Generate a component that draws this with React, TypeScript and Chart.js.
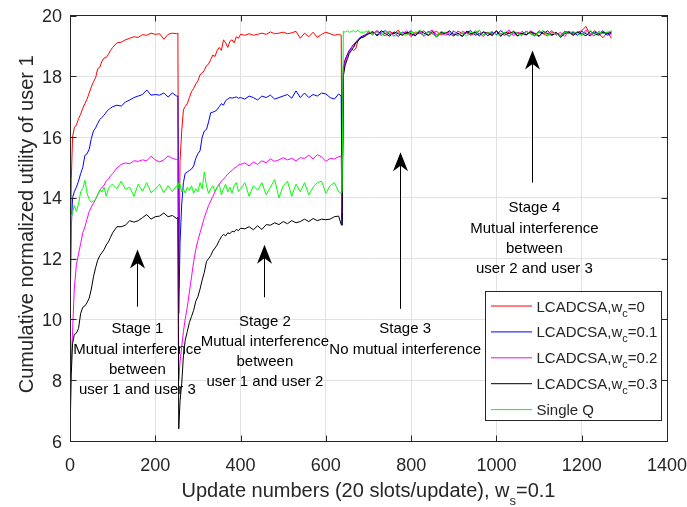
import React, { useEffect, useRef } from 'react';
import Chart from 'chart.js/auto';

// ---------- x positions (update numbers) ----------
const stage1X = [
  0, 3, 6, 10, 15, 20, 25, 30, 35, 40,
  45, 50, 55, 60, 65, 70, 75, 80, 85, 90,
  95, 100, 110, 120, 130, 140, 150, 160, 170, 180,
  190, 200, 210, 220, 230, 240, 250, 253,
];
const stage2X = [
  255, 258, 262, 266, 270, 275, 280, 285, 290, 295,
  300, 305, 310, 315, 320, 325, 330, 335, 340, 345,
  350, 355, 360, 365, 370, 375, 380, 385, 390, 395,
  400, 410, 420, 430, 440, 450, 460, 470, 480, 490,
  500, 510, 520, 530, 540, 550, 560, 570, 580, 590,
  600, 610, 620, 630, 636,
];
const stage3X = [
  638, 641, 645, 650, 655, 660, 665, 670, 675, 680,
  690, 700, 710, 720, 730, 740, 750, 760, 770, 780,
  790, 800, 810, 820, 830, 840, 850, 860, 870, 880,
  890, 900, 910, 920, 930, 940, 950, 960, 970, 980,
  990, 1000, 1010, 1020, 1030, 1040, 1050, 1060, 1070, 1080,
  1090, 1100, 1110, 1120, 1130, 1140, 1150, 1160, 1170, 1180,
  1190, 1200, 1210, 1220, 1230, 1240, 1250, 1260, 1270,
];
const updates = [...stage1X, ...stage2X, ...stage3X];

// ---------- LCADCSA, wc = 0 (red) ----------
const red1 = [
  11.5, 14.6, 16.0, 16.3, 16.4, 16.6, 16.75, 16.95, 17.1, 17.25,
  17.45, 17.65, 17.82, 17.95, 18.25, 18.3, 18.5, 18.6, 18.62, 18.72,
  18.85, 18.95, 19.1, 19.12, 19.2, 19.25, 19.3, 19.28, 19.37, 19.35,
  19.42, 19.38, 19.4, 19.22, 19.38, 19.42, 19.4, 19.42,
];
const red2 = [
  11.0, 15.2, 16.2, 16.9, 17.0, 17.1, 17.3, 17.5, 17.6, 17.75,
  17.85, 18.05, 18.1, 18.2, 18.35, 18.4, 18.55, 18.7, 18.65, 18.85,
  18.95, 18.85, 19.2, 19.1, 18.95, 19.15, 19.2, 19.1, 19.3, 19.25,
  19.38, 19.35, 19.4, 19.35, 19.38, 19.42, 19.38, 19.46, 19.4, 19.42,
  19.45, 19.4, 19.43, 19.48, 19.25, 19.42, 19.3, 19.45, 19.28, 19.38,
  19.45, 19.4, 19.35, 19.38, 19.35,
];
const red3 = [
  13.3, 18.3, 18.55, 18.7, 18.85, 18.9, 18.85, 18.9, 19.15, 19.25,
  19.32, 19.46, 19.36, 19.5, 19.4, 19.33, 19.47, 19.4, 19.52, 19.35,
  19.45, 19.3, 19.46, 19.4, 19.5, 19.34, 19.42, 19.48, 19.35, 19.45,
  19.4, 19.32, 19.49, 19.4, 19.46, 19.35, 19.42, 19.5, 19.37, 19.45,
  19.33, 19.48, 19.4, 19.35, 19.46, 19.42, 19.32, 19.48, 19.37, 19.45,
  19.35, 19.5, 19.4, 19.33, 19.46, 19.4, 19.35, 19.48, 19.45, 19.35,
  19.45, 19.5, 19.64, 19.35, 19.5, 19.4, 19.27, 19.45, 19.25,
];

// ---------- LCADCSA, wc = 0.1 (blue) ----------
const blue1 = [
  10.0, 13.0, 14.0, 14.2, 14.35, 14.55, 14.8, 15.0, 15.4, 15.45,
  15.6, 15.95, 16.2, 16.3, 16.45, 16.58, 16.65, 16.72, 16.82, 16.9,
  16.95, 17.0, 17.05, 17.02, 17.15, 17.22, 17.3, 17.35, 17.4, 17.55,
  17.38, 17.4, 17.38, 17.45, 17.32, 17.45, 17.35, 17.35,
];
const blue2 = [
  10.2, 12.5, 13.8, 14.5, 14.8, 14.85, 14.9, 14.95, 15.05, 15.3,
  15.45, 15.55, 16.0, 16.2, 16.25, 16.5, 16.8, 16.82, 16.85, 16.9,
  17.0, 17.1, 17.05, 17.2, 17.25, 17.3, 17.28, 17.3, 17.32, 17.28,
  17.3, 17.25, 17.35, 17.3, 17.22, 17.35, 17.3, 17.38, 17.25, 17.3,
  17.35, 17.4, 17.28, 17.52, 17.3, 17.45, 17.3, 17.4, 17.35, 17.45,
  17.42, 17.3, 17.25, 17.42, 17.35,
];
const blue3 = [
  13.1, 18.2, 18.5, 18.7, 18.85, 18.95, 19.05, 19.12, 19.2, 19.28,
  19.35, 19.4, 19.48, 19.33, 19.45, 19.5, 19.37, 19.42, 19.31, 19.46,
  19.4, 19.5, 19.35, 19.45, 19.33, 19.48, 19.4, 19.3, 19.46, 19.42,
  19.35, 19.48, 19.4, 19.32, 19.45, 19.5, 19.35, 19.4, 19.46, 19.33,
  19.45, 19.37, 19.5, 19.4, 19.32, 19.46, 19.42, 19.35, 19.48, 19.4,
  19.33, 19.45, 19.4, 19.5, 19.35, 19.42, 19.31, 19.46, 19.4, 19.45,
  19.35, 19.48, 19.4, 19.33, 19.45, 19.4, 19.5, 19.35, 19.42,
];

// ---------- LCADCSA, wc = 0.2 (magenta) ----------
const pink1 = [
  7.7, 8.6, 9.6, 11.0, 11.8, 12.15, 12.5, 12.85, 13.05, 13.3,
  13.55, 13.7, 13.82, 13.95, 14.1, 14.25, 14.35, 14.42, 14.55, 14.62,
  14.72, 14.8, 14.98, 15.1, 15.15, 15.12, 15.22, 15.2, 15.25, 15.22,
  15.37, 15.25, 15.18, 15.25, 15.38, 15.3, 15.26, 15.28,
];
const pink2 = [
  8.0, 8.6, 9.1, 9.6, 10.0, 10.4, 10.9, 11.4, 11.9, 12.3,
  12.6, 12.85, 13.1, 13.35, 13.55, 13.75, 13.9, 14.05, 14.2, 14.35,
  14.45, 14.55, 14.62, 14.7, 14.78, 14.85, 14.9, 14.98, 15.02, 15.08,
  15.1, 15.15, 15.05, 15.18, 15.1, 15.22, 15.15, 15.28, 15.2, 15.25,
  15.32, 15.25, 15.3, 15.22, 15.32, 15.3, 15.4, 15.28, 15.42, 15.35,
  15.2, 15.3, 15.28, 15.35, 15.38,
];
const pink3 = [
  13.5, 18.1, 18.45, 18.65, 18.8, 18.92, 19.0, 19.1, 19.18, 19.25,
  19.32, 19.45, 19.4, 19.5, 19.35, 19.42, 19.48, 19.33, 19.45, 19.4,
  19.5, 19.35, 19.4, 19.46, 19.31, 19.45, 19.52, 19.37, 19.42, 19.35,
  19.46, 19.4, 19.33, 19.48, 19.42, 19.35, 19.5, 19.4, 19.31, 19.45,
  19.4, 19.48, 19.35, 19.42, 19.52, 19.33, 19.45, 19.4, 19.35, 19.5,
  19.42, 19.33, 19.46, 19.4, 19.5, 19.35, 19.45, 19.31, 19.48, 19.4,
  19.46, 19.35, 19.52, 19.4, 19.33, 19.48, 19.4, 19.45, 19.37,
];

// ---------- LCADCSA, wc = 0.3 (black) ----------
const black1 = [
  6.2, 8.2, 9.2, 9.5, 9.55, 9.7, 10.2, 10.4, 10.45, 10.55,
  10.7, 11.0, 11.4, 11.7, 11.95, 12.1, 12.2, 12.3, 12.45, 12.55,
  12.7, 12.85, 13.05, 13.05, 13.1, 13.25, 13.2, 13.25, 13.35, 13.45,
  13.3, 13.38, 13.4, 13.5, 13.38, 13.42, 13.32, 13.35,
];
const black2 = [
  6.4, 7.3, 7.9, 8.8, 9.3, 9.6, 9.9, 10.1, 10.3, 10.6,
  10.75, 11.0, 11.3, 11.55, 11.9, 12.0, 12.1, 12.25, 12.35, 12.45,
  12.6, 12.72, 12.8, 12.75, 12.85, 12.82, 12.9, 12.88, 12.96, 12.92,
  13.0, 12.98, 13.05, 12.95, 13.08, 12.96, 13.12, 13.1, 13.18, 13.12,
  13.22, 13.15, 13.25, 13.18, 13.22, 13.3, 13.22, 13.32, 13.25, 13.3,
  13.28, 13.3, 13.38, 13.4, 13.12,
];
const black3 = [
  13.1, 18.0, 18.35, 18.55, 18.75, 18.85, 18.95, 19.1, 19.15, 19.25,
  19.3, 19.4, 19.45, 19.35, 19.5, 19.4, 19.32, 19.46, 19.4, 19.35,
  19.45, 19.4, 19.33, 19.5, 19.42, 19.35, 19.48, 19.3, 19.45, 19.4,
  19.5, 19.35, 19.42, 19.31, 19.48, 19.4, 19.45, 19.33, 19.46, 19.4,
  19.35, 19.5, 19.31, 19.45, 19.4, 19.48, 19.33, 19.42, 19.37, 19.46,
  19.4, 19.31, 19.48, 19.4, 19.35, 19.45, 19.28, 19.4, 19.46, 19.35,
  19.45, 19.4, 19.33, 19.48, 19.4, 19.35, 19.45, 19.4, 19.46,
];

// ---------- Single Q (green) ----------
const green1 = [
  11.3, 13.4, 13.5, 13.75, 13.55, 13.8, 14.2, 14.3, 14.58, 14.15,
  13.95, 13.85, 13.9, 13.95, 14.1, 14.25, 14.2, 14.35, 14.05, 14.3,
  14.4, 14.45, 14.3, 14.55, 14.28, 14.35, 14.05, 14.45, 14.22, 14.5,
  14.17, 14.28, 14.45, 14.17, 14.4, 14.2, 14.4, 14.3,
];
const green2 = [
  14.5, 14.45, 14.2, 14.3, 14.15, 14.35, 14.25, 14.4, 14.15, 14.3,
  14.2, 14.5, 14.3, 14.85, 14.4, 14.15, 14.3, 14.4, 14.2, 14.35,
  14.45, 14.1, 14.3, 14.45, 14.2, 14.35, 14.15, 14.4, 14.5, 14.2,
  14.3, 14.5, 14.05, 14.4, 14.25, 14.5, 14.1, 14.35, 14.6, 14.0,
  14.4, 14.55, 14.05, 14.45, 14.2, 14.5, 14.1, 14.35, 14.5, 14.55,
  14.15, 14.4, 14.5, 14.2, 14.15,
];
const green3 = [
  14.2, 19.48, 19.45, 19.5, 19.45, 19.47, 19.5, 19.45, 19.52, 19.45,
  19.45, 19.5, 19.38, 19.46, 19.33, 19.5, 19.41, 19.31, 19.48, 19.4,
  19.35, 19.46, 19.4, 19.52, 19.33, 19.45, 19.4, 19.3, 19.48, 19.42,
  19.4, 19.5, 19.35, 19.45, 19.33, 19.46, 19.4, 19.52, 19.35, 19.42,
  19.48, 19.35, 19.4, 19.45, 19.31, 19.5, 19.4, 19.35, 19.46, 19.4,
  19.33, 19.45, 19.5, 19.35, 19.42, 19.4, 19.31, 19.46, 19.4, 19.48,
  19.4, 19.35, 19.45, 19.5, 19.37, 19.46, 19.4, 19.45, 19.5,
];

const wc0 = [...red1, ...red2, ...red3];
const wc01 = [...blue1, ...blue2, ...blue3];
const wc02 = [...pink1, ...pink2, ...pink3];
const wc03 = [...black1, ...black2, ...black3];
const singleQ = [...green1, ...green2, ...green3];

// ---------- labels ----------
const legendWc = ['0', '0.1', '0.2', '0.3'];
const legendLast = 'Single Q';
const xTitleMain = 'Update numbers (20 slots/update), w';
const xTitleSub = 's';
const xTitleTail = '=0.1';
const yTitle = 'Cumulative normalized utility of user 1';

const stageNotes = [
  { lines: ['Stage 1', 'Mutual interference', 'between', 'user 1 and user 3'], textX: 158, textY: 9.54, arrowX: 158, tipY: 12.3, tailY: 10.42 },
  { lines: ['Stage 2', 'Mutual interference', 'between', 'user 1 and user 2'], textX: 457, textY: 9.8, arrowX: 456, tipY: 12.46, tailY: 10.73 },
  { lines: ['Stage 3', 'No mutual interference'], textX: 786, textY: 9.54, arrowX: 775, tipY: 15.5, tailY: 10.35 },
  { lines: ['Stage 4', 'Mutual interference', 'between', 'user 2 and user 3'], textX: 1089, textY: 13.52, arrowX: 1084, tipY: 18.85, tailY: 14.5 },
];

const COLORS = ['#ff0000', '#0000ff', '#ff00ff', '#000000', '#00ff00'];
const FONT = '"Liberation Sans", Arial, Helvetica, sans-serif';
const INK = '#262626';

const decorPlugin = {
  id: 'decor',
  beforeDraw(chart: any) {
    const ctx = chart.ctx;
    ctx.save();
    ctx.fillStyle = '#ffffff';
    ctx.fillRect(0, 0, chart.width, chart.height);
    ctx.restore();
  },
  afterDatasetsDraw(chart: any) {
    const ctx: CanvasRenderingContext2D = chart.ctx;
    const a = chart.chartArea;
    const xs = chart.scales.x;
    const ys = chart.scales.y;
    const L = Math.floor(a.left) + 0.5;
    const R = Math.floor(a.right) + 0.5;
    const T = Math.floor(a.top) + 0.5;
    const B = Math.floor(a.bottom) + 0.5;
    ctx.save();

    // box + inward ticks
    ctx.strokeStyle = INK;
    ctx.lineWidth = 1;
    ctx.strokeRect(L, T, R - L, B - T);
    const tl = 6;
    ctx.beginPath();
    xs.ticks.forEach((t: any) => {
      const px = Math.round(xs.getPixelForValue(t.value)) + 0.5;
      ctx.moveTo(px, B); ctx.lineTo(px, B - tl);
      ctx.moveTo(px, T); ctx.lineTo(px, T + tl);
    });
    ys.ticks.forEach((t: any) => {
      const py = Math.round(ys.getPixelForValue(t.value)) + 0.5;
      ctx.moveTo(L, py); ctx.lineTo(L + tl, py);
      ctx.moveTo(R, py); ctx.lineTo(R - tl, py);
    });
    ctx.stroke();

    // tick labels
    ctx.fillStyle = INK;
    ctx.font = `18px ${FONT}`;
    ctx.textAlign = 'center';
    ctx.textBaseline = 'alphabetic';
    xs.ticks.forEach((t: any) => {
      ctx.fillText(String(t.value), xs.getPixelForValue(t.value), a.bottom + 29.5);
    });
    ctx.textAlign = 'right';
    ys.ticks.forEach((t: any) => {
      ctx.fillText(String(t.value), a.left - 8, ys.getPixelForValue(t.value) + 6.5);
    });

    // x title with subscript
    ctx.textAlign = 'left';
    ctx.font = `20px ${FONT}`;
    const w1 = ctx.measureText(xTitleMain).width;
    const w3 = ctx.measureText(xTitleTail).width;
    ctx.font = `13px ${FONT}`;
    const w2 = ctx.measureText(xTitleSub).width;
    const cx = (a.left + a.right) / 2;
    const sx = cx - (w1 + w2 + w3) / 2;
    const by = a.bottom + 55.5;
    ctx.font = `20px ${FONT}`;
    ctx.fillText(xTitleMain, sx, by);
    ctx.font = `13px ${FONT}`;
    ctx.fillText(xTitleSub, sx + w1, by + 8.5);
    ctx.font = `20px ${FONT}`;
    ctx.fillText(xTitleTail, sx + w1 + w2, by);

    // y title
    ctx.save();
    ctx.translate(32.5, (a.top + a.bottom) / 2 - 4);
    ctx.rotate(-Math.PI / 2);
    ctx.textAlign = 'center';
    ctx.font = `20px ${FONT}`;
    ctx.fillText(yTitle, 0, 0);
    ctx.restore();

    // stage annotations
    ctx.font = `15px ${FONT}`;
    ctx.textAlign = 'center';
    ctx.fillStyle = '#000';
    stageNotes.forEach((n) => {
      const tx = xs.getPixelForValue(n.textX);
      const ty = ys.getPixelForValue(n.textY);
      n.lines.forEach((s, i) => ctx.fillText(s, tx, ty + i * 20.2));
      const ax = Math.round(xs.getPixelForValue(n.arrowX)) + 0.5;
      const tip = ys.getPixelForValue(n.tipY);
      const tail = ys.getPixelForValue(n.tailY);
      ctx.strokeStyle = '#000';
      ctx.lineWidth = 1;
      ctx.beginPath();
      ctx.moveTo(ax, tail);
      ctx.lineTo(ax, tip + 12);
      ctx.stroke();
      ctx.beginPath();
      ctx.moveTo(ax, tip);
      ctx.lineTo(ax - 7.5, tip + 19);
      ctx.lineTo(ax, tip + 13.5);
      ctx.lineTo(ax + 7.5, tip + 19);
      ctx.closePath();
      ctx.fill();
    });

    // legend
    const lx = a.right - 182;
    const ly = a.bottom - 149.5;
    ctx.fillStyle = '#fff';
    ctx.fillRect(Math.floor(lx) + 0.5, Math.floor(ly) + 0.5, 176, 129);
    ctx.strokeStyle = INK;
    ctx.strokeRect(Math.floor(lx) + 0.5, Math.floor(ly) + 0.5, 176, 129);
    ctx.textAlign = 'left';
    for (let i = 0; i < 5; i++) {
      const rowY = ly + 14.5 + i * 25.9;
      ctx.strokeStyle = COLORS[i];
      ctx.lineWidth = 1;
      ctx.beginPath();
      ctx.moveTo(lx + 6, rowY);
      ctx.lineTo(lx + 47, rowY);
      ctx.stroke();
      ctx.fillStyle = INK;
      const txx = lx + 51.5;
      const base = rowY + 5.5;
      if (i < 4) {
        ctx.font = `15px ${FONT}`;
        const m = 'LCADCSA,w';
        ctx.fillText(m, txx, base);
        const mw = ctx.measureText(m).width;
        ctx.font = `11px ${FONT}`;
        ctx.fillText('c', txx + mw, base + 5);
        const cw = ctx.measureText('c').width;
        ctx.font = `15px ${FONT}`;
        ctx.fillText('=' + legendWc[i], txx + mw + cw, base);
      } else {
        ctx.font = `15px ${FONT}`;
        ctx.fillText(legendLast, txx, base);
      }
    }
    ctx.restore();
  },
};

export default function App() {
  const ref = useRef<HTMLCanvasElement | null>(null);
  useEffect(() => {
    document.body.style.margin = '0';
    const canvas = ref.current;
    if (!canvas) return;
    const mk = (vals: number[]) => updates.map((x, i) => ({ x, y: vals[i] }));
    const series = [wc0, wc01, wc02, wc03, singleQ];
    const names = ['LCADCSA,wc=0', 'LCADCSA,wc=0.1', 'LCADCSA,wc=0.2', 'LCADCSA,wc=0.3', 'Single Q'];
    const chart = new Chart(canvas, {
      type: 'line',
      data: {
        datasets: series.map((s, i) => ({
          label: names[i],
          data: mk(s),
          borderColor: COLORS[i],
          backgroundColor: COLORS[i],
          borderWidth: 1,
          pointRadius: 0,
          tension: 0,
          fill: false,
          order: 5 - i,
        })),
      },
      options: {
        responsive: false,
        maintainAspectRatio: false,
        devicePixelRatio: 1,
        animation: false,
        events: [],
        layout: { padding: { top: 15.5, right: 20, left: 0, bottom: 0 } },
        plugins: { legend: { display: false }, tooltip: { enabled: false }, title: { display: false } },
        scales: {
          x: {
            type: 'linear',
            min: 0,
            max: 1400,
            ticks: { stepSize: 200, display: false },
            grid: { color: '#e2e2e2', drawTicks: false, lineWidth: 1 },
            border: { display: false },
            afterFit: (s: any) => { s.height = 66; },
          },
          y: {
            type: 'linear',
            min: 6,
            max: 20,
            ticks: { stepSize: 2, display: false },
            grid: { color: '#e2e2e2', drawTicks: false, lineWidth: 1 },
            border: { display: false },
            afterFit: (s: any) => { s.width = 70; },
          },
        },
      },
      plugins: [decorPlugin],
    } as any);
    return () => chart.destroy();
  }, []);
  return (
    <div style={{ width: 687, height: 507 }}>
      <canvas ref={ref} width={687} height={507} style={{ display: 'block', width: 687, height: 507 }} />
    </div>
  );
}
